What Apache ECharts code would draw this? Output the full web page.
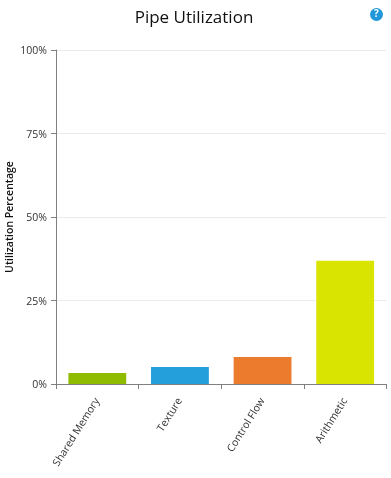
<!DOCTYPE html>
<html><head><meta charset="utf-8">
<style>html,body{margin:0;padding:0;background:#fff}#c{width:391px;height:478px}</style>
<script src="https://cdn.jsdelivr.net/npm/echarts@6/dist/echarts.min.js"></script>
</head><body><div id="c"></div>
<script>
const categories=["Shared Memory","Texture","Control Flow","Arithmetic"];
const values=[3.3,5.1,8.1,36.9];
const colors=["#8FBC00","#259FDC","#ED7B2D","#D9E500"];
const ticks=[0,25,50,75,100];
const yAxisName="Utilization Percentage";
const chart=echarts.init(document.getElementById('c'),null,{renderer:'canvas'});
chart.setOption({
animation:false,
title:{text:"Pipe Utilization",left:189,top:5,textAlign:'center',textStyle:{fontFamily:'Open Sans',fontSize:17,fontWeight:'normal',color:'#111'}},
graphic:[{type:'circle',shape:{cx:376.5,cy:14.5,r:6.5},style:{fill:'#1f97d8'}},
{type:'text',style:{x:376.5,y:14.5,text:'?',fill:'#fff',font:'bold 10px Open Sans',align:'center',verticalAlign:'middle'}},
{type:'text',x:10,y:217,rotation:Math.PI/2,style:{x:0,y:0,text:yAxisName,fill:'#111',font:'600 10.5px Open Sans',align:'center',verticalAlign:'middle'}}],
grid:{left:56,right:4.5,top:50,bottom:94,outerBoundsMode:'none'},
xAxis:{type:'category',data:categories,axisTick:{show:true,alignWithLabel:false,length:5,lineStyle:{color:'#808080'}},
axisLine:{lineStyle:{color:'#808080'}},axisLabel:{rotate:58,interval:0,fontFamily:'Open Sans',fontSize:10.5,color:'#333',margin:15}},
yAxis:{type:'value',min:0,max:100,interval:25,
axisLine:{show:true,lineStyle:{color:'#808080'}},axisTick:{show:true,length:5,lineStyle:{color:'#808080'}},
axisLabel:{formatter:v=>ticks.includes(v)?v+'%':'',fontFamily:'Open Sans',fontSize:10.5,color:'#333',margin:9,verticalAlign:'top',lineHeight:3},
splitLine:{lineStyle:{color:'#ebebeb'}}},
series:[{type:'bar',barWidth:'70%',data:values.map((v,i)=>({value:v,itemStyle:{color:colors[i]}}))}]
});
</script></body></html>
